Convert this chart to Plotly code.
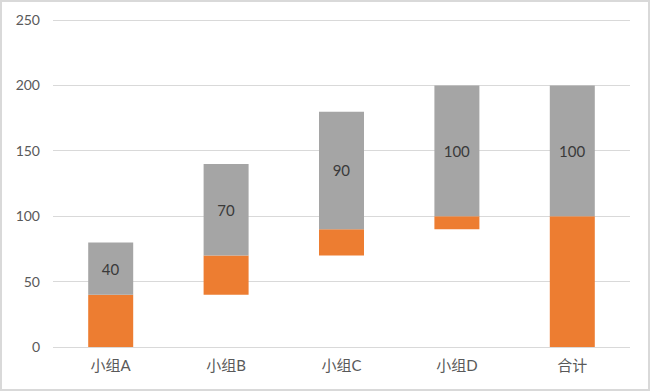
import plotly.graph_objects as go

categories = ["小组A", "小组B", "小组C", "小组D", "合计"]
base_values = [0, 40, 70, 90, 0]
orange_values = [40, 30, 20, 10, 100]
gray_values = [40, 70, 90, 100, 100]
y_ticks = [0, 50, 100, 150, 200, 250]

W, H = 650, 391
ml, mr, mt, mb = 53, 20, 18, 44
font_family = "Lato, 'Noto Sans CJK SC', sans-serif"

gray_base = [b + o for b, o in zip(base_values, orange_values)]

fig = go.Figure()
fig.add_trace(go.Bar(x=categories, y=orange_values, base=base_values,
                     marker=dict(color="#ED7D31", line=dict(width=0)), showlegend=False))
fig.add_trace(go.Bar(x=categories, y=gray_values, base=gray_base,
                     marker=dict(color="#A5A5A5", line=dict(width=0)),
                     text=[str(v) for v in gray_values], textposition="inside",
                     insidetextanchor="middle", textangle=0,
                     textfont=dict(color="#3a3a3a", size=15, family=font_family),
                     showlegend=False))

pw = W - ml - mr
ph = H - mt - mb
fig.add_shape(type="rect", xref="paper", yref="paper",
              x0=(-ml + 1) / pw, x1=1 + (mr - 1) / pw,
              y0=(-mb + 1) / ph, y1=1 + (mt - 1) / ph,
              line=dict(color="#d9d9d9", width=2), fillcolor="rgba(0,0,0,0)", layer="above")

fig.update_layout(
    width=W, height=H,
    margin=dict(l=ml, r=mr, t=mt, b=mb),
    barmode="overlay", bargap=0.61,
    plot_bgcolor="white", paper_bgcolor="white",
    font=dict(family=font_family, size=14, color="#595959"),
    xaxis=dict(showgrid=False, showline=False, ticks="", ticklabelstandoff=8,
               tickfont=dict(size=15, color="#595959")),
    yaxis=dict(range=[0, 251.6], tickvals=y_ticks, showgrid=True, gridcolor="#d9d9d9",
               gridwidth=1, zeroline=True, zerolinecolor="#d9d9d9", zerolinewidth=1,
               showline=False, ticks="", ticklabelstandoff=12,
               tickfont=dict(size=14, color="#595959")),
)

fig.write_html("out.html", config={"displayModeBar": False},
               post_script="document.body.style.margin='0';document.body.style.overflow='hidden';")
